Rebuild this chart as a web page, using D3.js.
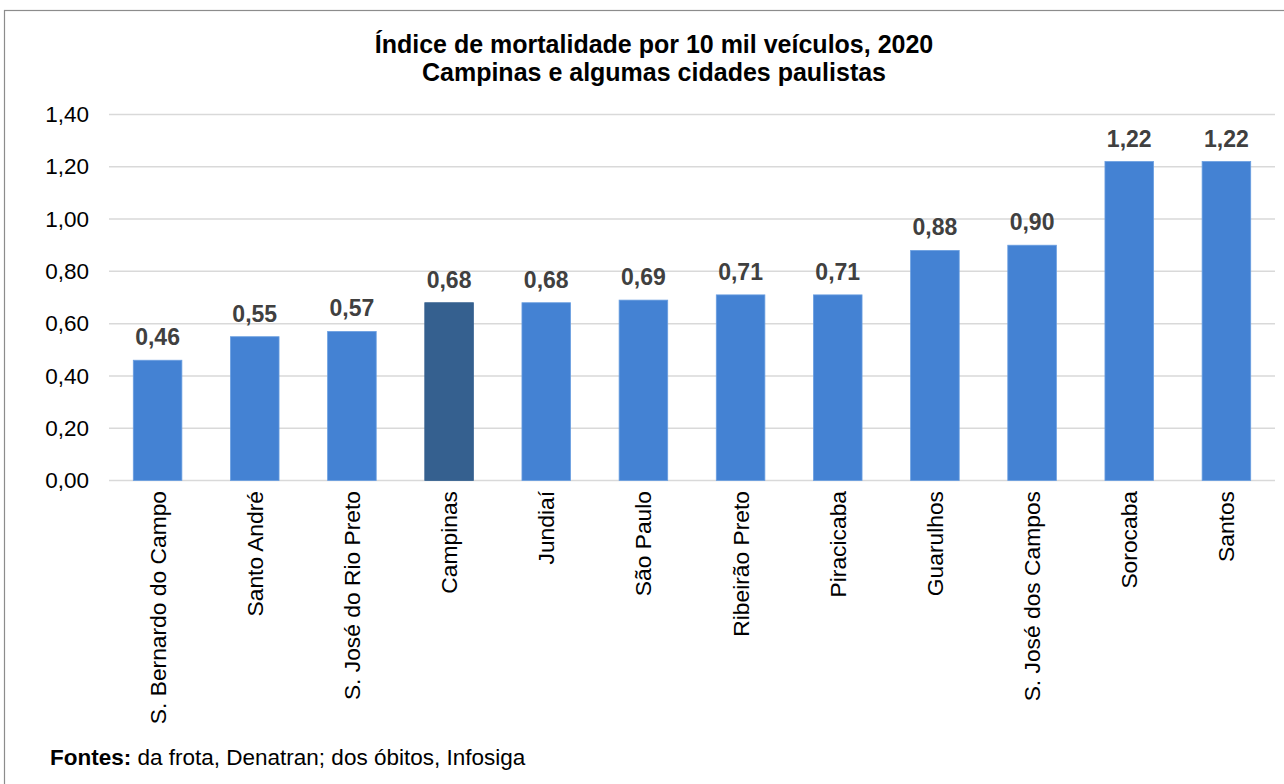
<!DOCTYPE html>
<html>
<head>
<meta charset="utf-8">
<script src="https://cdn.jsdelivr.net/npm/d3@7"></script>
<style>
html,body{margin:0;padding:0;background:#fff;}
svg{display:block;font-family:"Liberation Sans",Arial,sans-serif;}
</style>
</head>
<body>
<svg id="chart" width="1284" height="784"></svg>
<script>
const categories = ["S. Bernardo do Campo","Santo André","S. José do Rio Preto","Campinas","Jundiaí","São Paulo","Ribeirão Preto","Piracicaba","Guarulhos","S. José dos Campos","Sorocaba","Santos"];
const values = [0.46,0.55,0.57,0.68,0.68,0.69,0.71,0.71,0.88,0.90,1.22,1.22];
const yTicks = [0,0.2,0.4,0.6,0.8,1.0,1.2,1.4];
const highlight = "Campinas";
const titleLines = ["Índice de mortalidade por 10 mil veículos, 2020","Campinas e algumas cidades paulistas"];

const svg = d3.select("#chart");
const fmt = v => d3.format(".2f")(v).replace(".", ",");

// outer border
svg.append("rect").attr("x",4.5).attr("y",10.5).attr("width",1300).attr("height",800)
  .attr("fill","#fff").attr("stroke","#8c8c8c").attr("stroke-width",1.2);

const m = {left:109, right:1275, top:114.5, bottom:480.5};
const x = d3.scaleBand().domain(categories).range([m.left,m.right]).paddingInner(0.5).paddingOuter(0.25);
const y = d3.scaleLinear().domain([0,1.4]).range([m.bottom,m.top]);

// title
svg.append("text").attr("x",654).attr("y",53).attr("text-anchor","middle")
  .attr("font-size",25).attr("font-weight","bold").attr("fill","#000")
  .selectAll("tspan").data(titleLines).join("tspan")
  .attr("x",654).attr("dy",(d,i)=>i?28:0).text(d=>d);

// gridlines
svg.append("g").selectAll("line").data(yTicks).join("line")
  .attr("x1",m.left).attr("x2",m.right)
  .attr("y1",d=>y(d)).attr("y2",d=>y(d))
  .attr("stroke","#d9d9d9").attr("stroke-width",1.5);

// y axis labels
const yAxis = d3.axisLeft(y).tickValues(yTicks).tickFormat(fmt).tickSize(0).tickPadding(0);
const ga = svg.append("g").attr("transform",`translate(89,0)`).call(yAxis);
ga.select(".domain").remove();
ga.selectAll("text").attr("font-size",22.5).attr("fill","#000").attr("font-family","'Liberation Sans',Arial,sans-serif");

// bars
svg.append("g").selectAll("rect").data(categories).join("rect")
  .attr("x",d=>x(d)).attr("width",x.bandwidth())
  .attr("y",(d,i)=>y(values[i])).attr("height",(d,i)=>y(0)-y(values[i]))
  .attr("fill",d=>d===highlight?"#35608f":"#4482d3")
  .attr("stroke",d=>d===highlight?"#35608f":"#6a9ee0").attr("stroke-width",0.8);

// value labels
svg.append("g").selectAll("text").data(categories).join("text")
  .attr("x",d=>x(d)+x.bandwidth()/2).attr("y",(d,i)=>y(values[i])-15)
  .attr("text-anchor","middle").attr("font-size",23).attr("font-weight","bold").attr("fill","#404040")
  .text((d,i)=>fmt(values[i]));

// category labels
svg.append("g").selectAll("text").data(categories).join("text")
  .attr("transform",d=>`translate(${x(d)+x.bandwidth()/2+8},491) rotate(-90)`)
  .attr("text-anchor","end").attr("font-size",22.8).attr("fill","#000")
  .text(d=>d);

// footer
const ft = svg.append("text").attr("x",50).attr("y",765).attr("font-size",22.5).attr("fill","#000");
ft.append("tspan").attr("font-weight","bold").text("Fontes:");
ft.append("tspan").text(" da frota, Denatran; dos óbitos, Infosiga");
</script>
</body>
</html>
